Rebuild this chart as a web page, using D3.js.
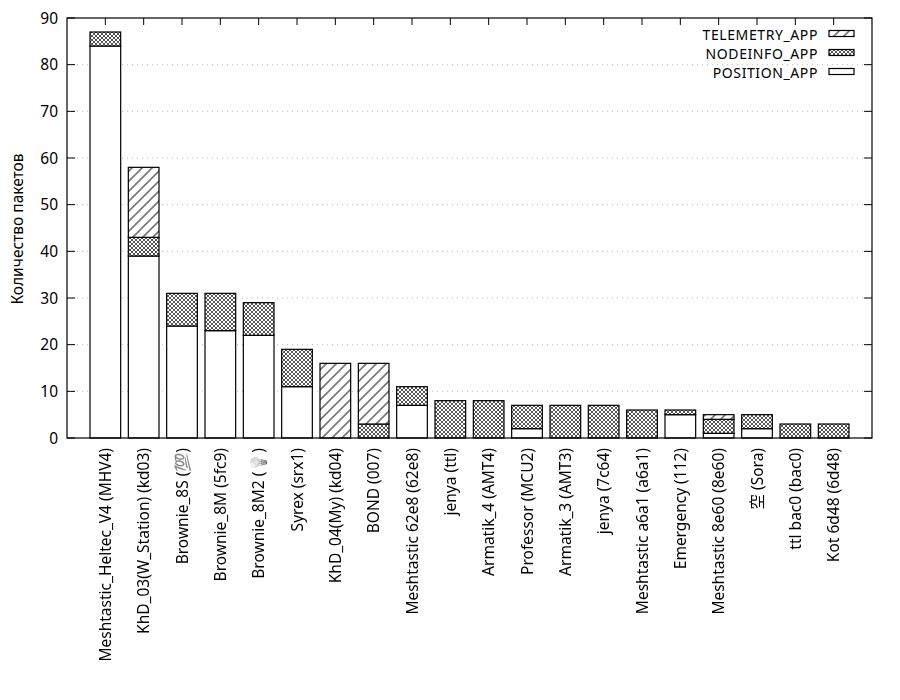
<!DOCTYPE html>
<html><head><meta charset="utf-8">
<script src="https://cdn.jsdelivr.net/npm/d3@7"></script>
<style>body{margin:0;background:#fff}</style>
</head><body>
<svg id="c" width="900" height="700"></svg>
<script>
const categories = ["Meshtastic_Heltec_V4 (MHV4)","KhD_03(W_Station) (kd03)","Brownie_8S (💯)","Brownie_8M (5fc9)","Brownie_8M2 (💡)","Syrex (srx1)","KhD_04(My) (kd04)","BOND (007)","Meshtastic 62e8 (62e8)","jenya (ttl)","Armatik_4 (AMT4)","Professor (MCU2)","Armatik_3 (AMT3)","jenya (7c64)","Meshtastic a6a1 (a6a1)","Emergency (112)","Meshtastic 8e60 (8e60)","空 (Sora)","ttl bac0 (bac0)","Kot 6d48 (6d48)"];
const positionApp  = [84,39,24,23,22,11,0,0,7,0,0,2,0,0,0,5,1,2,0,0];
const nodeinfoApp  = [3,4,7,8,7,8,0,3,4,8,8,5,7,7,6,1,3,3,3,3];
const telemetryApp = [0,15,0,0,0,0,16,13,0,0,0,0,0,0,0,0,1,0,0,0];
const seriesNames = ["POSITION_APP","NODEINFO_APP","TELEMETRY_APP"];
const yTicks = [0,10,20,30,40,50,60,70,80,90];
const yLabel = "Количество пакетов";

const font = "'Noto Sans', 'Noto Sans CJK JP', 'Open Sans', sans-serif";
const fs = 15.5;
const svg = d3.select("#c");
const L=67, R=872, T=18, B=438;
const x = d3.scaleLinear().domain([-1, categories.length]).range([L, R]);
const y = d3.scaleLinear().domain([0, 90]).range([B, T]);
const bw = (x(1)-x(0))*0.8;

const defs = svg.append("defs");
const gf = defs.append("filter").attr("id","gray");
gf.append("feColorMatrix").attr("type","saturate").attr("values",0);
const ch = defs.append("pattern").attr("id","cross").attr("patternUnits","userSpaceOnUse").attr("width",4).attr("height",4);
ch.append("rect").attr("width",4).attr("height",4).attr("fill","#fff");
ch.append("path").attr("d","M0,0L4,4M4,0L0,4").attr("stroke","#555").attr("stroke-width",1);
const hs = defs.append("pattern").attr("id","hatch").attr("patternUnits","userSpaceOnUse").attr("width",10).attr("height",10);
hs.append("rect").attr("width",10).attr("height",10).attr("fill","#fff");
hs.append("path").attr("d","M-2.5,2.5L2.5,-2.5M0,10L10,0M7.5,12.5L12.5,7.5").attr("stroke","#777").attr("stroke-width",1.6);
const fills = ["#fff","url(#cross)","url(#hatch)"];

// grid
svg.append("g").selectAll("line").data(yTicks.filter(d=>d>0&&d<90)).join("line")
  .attr("x1",L).attr("x2",R).attr("y1",d=>y(d)).attr("y2",d=>y(d))
  .attr("stroke","#bbb").attr("stroke-width",1).attr("stroke-dasharray","1,4");

// bars
const data = categories.map((c,i)=>({c,i,vals:[positionApp[i],nodeinfoApp[i],telemetryApp[i]]}));
const g = svg.append("g");
data.forEach(d=>{
  let acc=0;
  d.vals.forEach((v,k)=>{
    if(v>0){
      g.append("rect").attr("x",x(d.i)-bw/2).attr("width",bw)
        .attr("y",y(acc+v)).attr("height",y(acc)-y(acc+v))
        .attr("fill",fills[k]).attr("stroke","#000").attr("stroke-width",1.2);
    }
    acc+=v;
  });
});

// frame
svg.append("rect").attr("x",L).attr("y",T).attr("width",R-L).attr("height",B-T).attr("fill","none").attr("stroke","#000").attr("stroke-width",1.2);

// y ticks
const yg = svg.append("g");
yTicks.forEach(t=>{
  yg.append("line").attr("x1",L).attr("x2",L+8).attr("y1",y(t)).attr("y2",y(t)).attr("stroke","#000");
  yg.append("line").attr("x1",R).attr("x2",R-8).attr("y1",y(t)).attr("y2",y(t)).attr("stroke","#000");
  yg.append("text").attr("x",L-9).attr("y",y(t)).attr("dy","0.36em").attr("text-anchor","end")
    .attr("font-family",font).attr("font-size",fs).text(t);
});
// x ticks top
categories.forEach((c,i)=>{
  svg.append("line").attr("x1",x(i)).attr("x2",x(i)).attr("y1",T).attr("y2",T+7).attr("stroke","#000");
});
// x labels
svg.append("g").attr("filter","url(#gray)").selectAll("text").data(categories).join("text")
  .attr("transform",(d,i)=>`translate(${x(i)+5.5},${B+10}) rotate(-90)`)
  .attr("text-anchor","end").attr("font-family",font).attr("font-size",fs).text(d=>d);

// y label
svg.append("text").attr("transform",`translate(23,${(T+B)/2+1}) rotate(-90)`)
  .attr("text-anchor","middle").attr("font-family",font).attr("font-size",fs).text(yLabel);

// legend
const legOrder = [2,1,0];
legOrder.forEach((k,j)=>{
  const ly = 35 + j*19;
  svg.append("text").attr("x",818).attr("y",ly).attr("dy","0.36em").attr("text-anchor","end")
    .attr("font-family",font).attr("font-size",14).attr("letter-spacing",0.6).text(seriesNames[k]);
  svg.append("rect").attr("x",829).attr("y",ly-4.5).attr("width",25).attr("height",6)
    .attr("fill",fills[k]).attr("stroke","#000").attr("stroke-width",1.2);
});
</script>
</body></html>
